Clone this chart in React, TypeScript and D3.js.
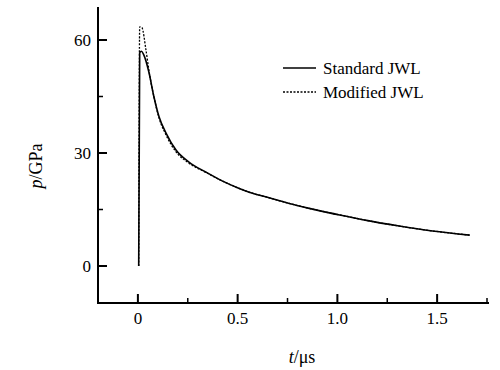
import React from "react";
import * as d3 from "d3";

const standardT = [0.004, 0.009, 0.018, 0.03, 0.055, 0.08, 0.106, 0.141, 0.191, 0.256, 0.342, 0.422, 0.508, 0.558, 0.658, 0.759, 0.859, 0.96, 1.045, 1.146, 1.31, 1.477, 1.663];
const standardP = [0, 56.6, 57.0, 56.0, 51.5, 45.0, 39.6, 35.3, 30.8, 27.6, 24.9, 22.6, 20.6, 19.6, 18.1, 16.6, 15.3, 14.1, 13.2, 12.1, 10.6, 9.3, 8.2];
const modifiedT = [0.004, 0.009, 0.02, 0.04, 0.055, 0.08, 0.106, 0.141, 0.191, 0.256, 0.342, 0.422, 0.508, 0.558, 0.658, 0.759, 0.859, 0.96, 1.045, 1.146, 1.31, 1.477, 1.663];
const modifiedP = [0, 63.5, 63.3, 57.5, 52.0, 45.0, 39.3, 34.8, 30.3, 27.3, 24.8, 22.6, 20.6, 19.6, 18.1, 16.6, 15.3, 14.1, 13.2, 12.1, 10.6, 9.3, 8.2];
const xMajor = [0, 0.5, 1.0, 1.5];
const xMinor = [0.25, 0.75, 1.25, 1.75];
const yMajor = [0, 30, 60];
const yMinor = [15, 45];
const seriesNames = ["Standard JWL", "Modified JWL"];

const font = "'Liberation Serif', 'Times New Roman', serif";

const left = 98;
const right = 488;
const top = 8;
const bottom = 303;

const x = d3.scaleLinear().domain([-0.2, 1.755]).range([left, right]);
const y = d3.scaleLinear().domain([-9.83, 68.5]).range([bottom, top]);

const line = d3
  .line<[number, number]>()
  .x((d) => x(d[0]))
  .y((d) => y(d[1]))
  .curve(d3.curveMonotoneX);

const stdData = standardT.map((t, i) => [t, standardP[i]] as [number, number]);
const modData = modifiedT.map((t, i) => [t, modifiedP[i]] as [number, number]);

const fmtX = (d: number) => (d === 0 ? "0" : d3.format(".1f")(d));

// axis frame + ticks as one path
const axisPath = () => {
  const p = d3.path();
  p.moveTo(left, top);
  p.lineTo(left, bottom);
  p.lineTo(right, bottom);
  xMajor.forEach((d) => {
    p.moveTo(x(d), bottom);
    p.lineTo(x(d), bottom - 8);
  });
  yMajor.forEach((d) => {
    p.moveTo(left, y(d));
    p.lineTo(left + 8, y(d));
  });
  return p.toString();
};
const minorPath = () => {
  const p = d3.path();
  xMinor.forEach((d) => {
    p.moveTo(x(d), bottom);
    p.lineTo(x(d), bottom - 5);
  });
  yMinor.forEach((d) => {
    p.moveTo(left, y(d));
    p.lineTo(left + 5, y(d));
  });
  return p.toString();
};

const Chart = () => {
  return (
    <svg
      width={500}
      height={370}
      style={{ position: "absolute", left: 0, top: 0, background: "#fff", fontFamily: font }}
    >
      {/* curves */}
      <path d={line(modData) || ""} fill="none" stroke="#000" strokeWidth={1.3} strokeDasharray="2,1.5" />
      <path d={line(stdData) || ""} fill="none" stroke="#000" strokeWidth={1.6} />

      {/* axes */}
      <path d={minorPath()} fill="none" stroke="#000" strokeWidth={1.5} />
      <path d={axisPath()} fill="none" stroke="#000" strokeWidth={2} strokeLinecap="square" />

      {xMajor.map((d) => (
        <text key={"xl" + d} x={x(d)} y={324} textAnchor="middle" fontFamily="Liberation Serif" fontSize={17}>
          {fmtX(d)}
        </text>
      ))}
      {yMajor.map((d) => (
        <text key={"yl" + d} x={91} y={y(d) + 6} textAnchor="end" fontFamily="Liberation Serif" fontSize={17}>
          {d}
        </text>
      ))}

      {/* axis titles */}
      <text x={302} y={363} textAnchor="middle" fontFamily="Liberation Serif" fontSize={18}>
        <tspan fontStyle="italic">t</tspan>
        <tspan>/μs</tspan>
      </text>
      <text transform="translate(42,166) rotate(-90)" textAnchor="middle" fontFamily="Liberation Serif" fontSize={18}>
        <tspan fontStyle="italic">p</tspan>
        <tspan>/GPa</tspan>
      </text>

      {/* legend */}
      {seriesNames.map((name, i) => {
        const ly = 68 + i * 24;
        return (
          <g key={name}>
            <line
              x1={283}
              x2={316}
              y1={ly}
              y2={ly}
              stroke="#000"
              strokeWidth={i === 0 ? 1.6 : 1.3}
              strokeDasharray={i === 0 ? undefined : "2,1.5"}
            />
            <text x={323} y={ly + 6} fontFamily="Liberation Serif" fontSize={17}>
              {name}
            </text>
          </g>
        );
      })}
    </svg>
  );
};

export default function App() {
  return <Chart />;
}
